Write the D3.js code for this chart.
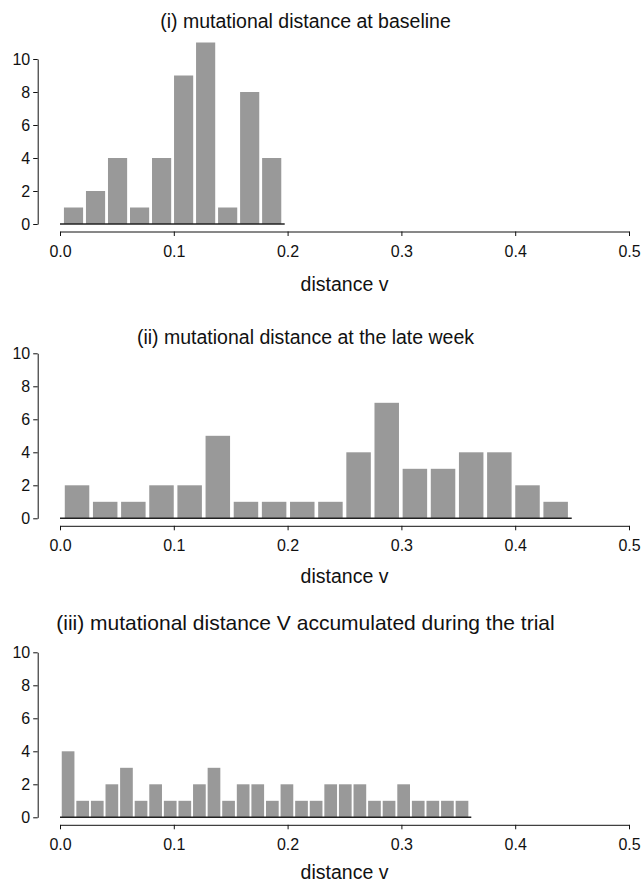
<!DOCTYPE html>
<html>
<head>
<meta charset="utf-8">
<script src="https://cdn.jsdelivr.net/npm/d3@7"></script>
<style>
  body { margin: 0; background: #fff; }
  svg text { font-family: "Liberation Sans", Arial, Helvetica, sans-serif; fill: #111; }
</style>
</head>
<body>
<div id="chart"></div>
<script>
// histogram counts
const countsBaseline = [1, 2, 4, 1, 4, 9, 11, 1, 8, 4];
const countsLateWeek = [2, 1, 1, 2, 2, 5, 1, 1, 1, 1, 4, 7, 3, 3, 4, 4, 2, 1];
const countsTrial = [4, 1, 1, 2, 3, 1, 2, 1, 1, 2, 3, 1, 2, 2, 1, 2, 1, 1, 2, 2, 2, 1, 1, 2, 1, 1, 1, 1];

// first bin edge and bin width (distance units) per panel
const binStarts = [0.0022, 0.0026, 0.0007];
const binWidths = [0.01935, 0.02474, 0.01282];

const titles = [
    "(i) mutational distance at baseline",
    "(ii) mutational distance at the late week",
    "(iii) mutational distance V accumulated during the trial"
];
const xTicks = [0, 0.1, 0.2, 0.3, 0.4, 0.5];
const yTicks = [0, 2, 4, 6, 8, 10];
const xLabel = "distance v";

const width = 644, height = 883;

// vertical layout of each panel: zero line, title baseline/size, axis label baseline
const layout = [
    { y0: 224, titleY: 28, titleSize: 19.5, labelY: 290.5 },
    { y0: 518.3, titleY: 343.5, titleSize: 19.5, labelY: 583 },
    { y0: 817.3, titleY: 630, titleSize: 21, labelY: 879 }
];

const panels = [countsBaseline, countsLateWeek, countsTrial].map((counts, i) => ({
    title: titles[i],
    bins: counts.map((c, j) => ({
        x0: binStarts[i] + j * binWidths[i],
        x1: binStarts[i] + (j + 1) * binWidths[i],
        count: c
    }))
}));

const svg = d3.select("#chart").append("svg")
    .attr("width", width)
    .attr("height", height);

const x = d3.scaleLinear()
    .domain([0, 0.5])
    .range([60, 629]);

panels.forEach((p, i) => {
    const L = layout[i];
    const y = d3.scaleLinear()
        .domain([0, 10])
        .range([L.y0, L.y0 - 165]);

    const g = svg.append("g");

    g.append("text")
        .attr("x", 305.5)
        .attr("y", L.titleY)
        .attr("text-anchor", "middle")
        .style("font-size", L.titleSize + "px")
        .text(p.title);

    g.selectAll("rect")
      .data(p.bins)
      .enter().append("rect")
        .attr("x", d => x(d.x0) + (x(d.x1) - x(d.x0)) * 0.065)
        .attr("y", d => y(d.count))
        .attr("width", d => (x(d.x1) - x(d.x0)) * 0.87)
        .attr("height", d => y(0) - y(d.count))
        .attr("fill", "#999999");

    // base line under the bars
    const last = p.bins[p.bins.length - 1].x1;
    g.append("line")
        .attr("x1", x(0))
        .attr("x2", x(last) + 2)
        .attr("y1", y(0))
        .attr("y2", y(0))
        .attr("stroke", "#222")
        .attr("stroke-width", 1.5);

    const yAxis = g.append("g")
        .attr("transform", "translate(37.7,0)")
        .call(d3.axisLeft(y).tickValues(yTicks).tickSize(4.5).tickSizeOuter(0).tickPadding(3));

    const xAxis = g.append("g")
        .attr("transform", `translate(0,${L.y0 + 7.5})`)
        .call(d3.axisBottom(x).tickValues(xTicks).tickFormat(d3.format(".1f"))
            .tickSize(4.5).tickSizeOuter(0).tickPadding(9.5));

    [yAxis, xAxis].forEach(a => {
        a.selectAll("text").style("font-size", "16px").attr("fill", "#111")
            .style("font-family", '"Liberation Sans", Arial, sans-serif');
        a.selectAll("path, line").attr("stroke", "#111");
    });

    g.append("text")
        .attr("x", (x(0) + x(0.5)) / 2)
        .attr("y", L.labelY)
        .attr("text-anchor", "middle")
        .style("font-size", "19.5px")
        .text(xLabel);
});
</script>
</body>
</html>
